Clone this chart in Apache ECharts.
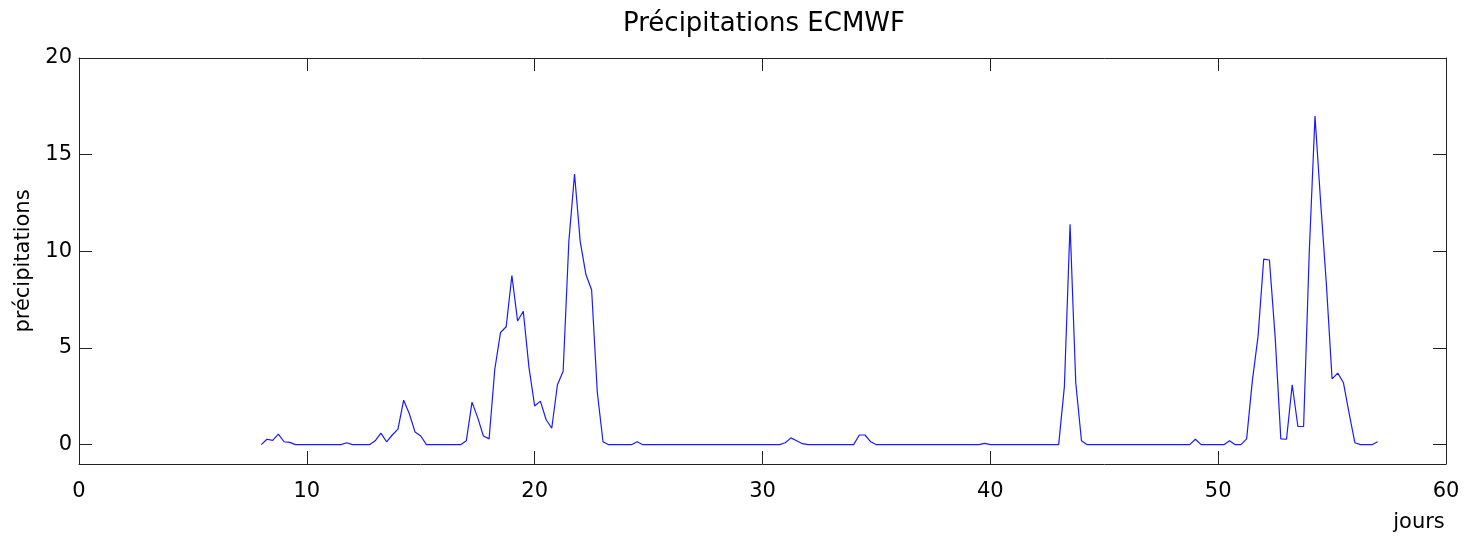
<!DOCTYPE html>
<html>
<head>
<meta charset="utf-8">
<title>Précipitations ECMWF</title>
<script src="https://cdn.jsdelivr.net/npm/echarts@6/dist/echarts.min.js"></script>
<style>
  html, body { margin: 0; padding: 0; background: #fff; }
  #precip_chart { width: 1466px; height: 539px; }
</style>
</head>
<body>
<div id="precip_chart"></div>
<script>
// jours (pas de 6 h)
var days = [
  8, 8.25, 8.5, 8.75, 9, 9.25, 9.5, 9.75,
  10, 10.25, 10.5, 10.75, 11, 11.25, 11.5, 11.75,
  12, 12.25, 12.5, 12.75, 13, 13.25, 13.5, 13.75,
  14, 14.25, 14.5, 14.75, 15, 15.25, 15.5, 15.75,
  16, 16.25, 16.5, 16.75, 17, 17.25, 17.5, 17.75,
  18, 18.25, 18.5, 18.75, 19, 19.25, 19.5, 19.75,
  20, 20.25, 20.5, 20.75, 21, 21.25, 21.5, 21.75,
  22, 22.25, 22.5, 22.75, 23, 23.25, 23.5, 23.75,
  24, 24.25, 24.5, 24.75, 25, 25.25, 25.5, 25.75,
  26, 26.25, 26.5, 26.75, 27, 27.25, 27.5, 27.75,
  28, 28.25, 28.5, 28.75, 29, 29.25, 29.5, 29.75,
  30, 30.25, 30.5, 30.75, 31, 31.25, 31.5, 31.75,
  32, 32.25, 32.5, 32.75, 33, 33.25, 33.5, 33.75,
  34, 34.25, 34.5, 34.75, 35, 35.25, 35.5, 35.75,
  36, 36.25, 36.5, 36.75, 37, 37.25, 37.5, 37.75,
  38, 38.25, 38.5, 38.75, 39, 39.25, 39.5, 39.75,
  40, 40.25, 40.5, 40.75, 41, 41.25, 41.5, 41.75,
  42, 42.25, 42.5, 42.75, 43, 43.25, 43.5, 43.75,
  44, 44.25, 44.5, 44.75, 45, 45.25, 45.5, 45.75,
  46, 46.25, 46.5, 46.75, 47, 47.25, 47.5, 47.75,
  48, 48.25, 48.5, 48.75, 49, 49.25, 49.5, 49.75,
  50, 50.25, 50.5, 50.75, 51, 51.25, 51.5, 51.75,
  52, 52.25, 52.5, 52.75, 53, 53.25, 53.5, 53.75,
  54, 54.25, 54.5, 54.75, 55, 55.25, 55.5, 55.75,
  56, 56.25, 56.5, 56.75, 57
];

// précipitations
var precip = [
  0, 0.28, 0.22, 0.55, 0.15, 0.12, 0, 0,
  0, 0, 0, 0, 0, 0, 0, 0.1,
  0, 0, 0, 0, 0.2, 0.6, 0.15, 0.5,
  0.8, 2.3, 1.6, 0.65, 0.45, 0, 0, 0,
  0, 0, 0, 0, 0.2, 2.2, 1.4, 0.45,
  0.3, 3.9, 5.8, 6.1, 8.75, 6.4, 6.9, 4.0,
  2.0, 2.25, 1.3, 0.85, 3.1, 3.8, 10.5, 14.0,
  10.5, 8.8, 8.0, 2.7, 0.15, 0, 0, 0,
  0, 0, 0.15, 0, 0, 0, 0, 0,
  0, 0, 0, 0, 0, 0, 0, 0,
  0, 0, 0, 0, 0, 0, 0, 0,
  0, 0, 0, 0, 0.1, 0.35, 0.2, 0.05,
  0, 0, 0, 0, 0, 0, 0, 0,
  0, 0.5, 0.5, 0.15, 0, 0, 0, 0,
  0, 0, 0, 0, 0, 0, 0, 0,
  0, 0, 0, 0, 0, 0, 0, 0.07,
  0, 0, 0, 0, 0, 0, 0, 0,
  0, 0, 0, 0, 0, 3.0, 11.4, 3.2,
  0.2, 0, 0, 0, 0, 0, 0, 0,
  0, 0, 0, 0, 0, 0, 0, 0,
  0, 0, 0, 0, 0.28, 0, 0, 0,
  0, 0, 0.2, 0, 0, 0.3, 3.3, 5.6,
  9.6, 9.55, 5.6, 0.3, 0.28, 3.1, 0.94, 0.94,
  10.0, 17.0, 12.5, 8.3, 3.4, 3.7, 3.2, 1.6,
  0.1, 0, 0, 0, 0.15
];

var yTicks = [0, 5, 10, 15, 20];

var font = 'DejaVu Sans';
var axisColor = '#222';

var chart = echarts.init(document.getElementById('precip_chart'));

var points = [];
for (var i = 0; i < days.length; i++) {
    points.push([days[i], precip[i]]);
}

chart.setOption({
    animation: false,
    backgroundColor: '#fff',
    title: {
        text: 'Précipitations ECMWF',
        left: 759,
        textAlign: 'center',
        top: 6,
        textStyle: {
            fontFamily: font,
            fontSize: 26,
            fontWeight: 'normal',
            color: '#000'
        }
    },
    grid: {
        left: 79,
        right: 20,
        top: 58,
        bottom: 75,
        outerBoundsMode: 'none',
        containLabel: false
    },
    xAxis: [{
        type: 'value',
        min: 0,
        max: 60,
        interval: 10,
        position: 'bottom',
        name: 'jours',
        nameLocation: 'end',
        nameGap: -27,
        nameTextStyle: {
            fontFamily: font,
            fontSize: 21,
            color: '#000',
            align: 'center',
            verticalAlign: 'top',
            padding: [48, 0, 0, 0]
        },
        axisLine: { onZero: false, lineStyle: { color: axisColor, width: 1 } },
        axisTick: { inside: true, length: 13, lineStyle: { color: axisColor } },
        axisLabel: {
            margin: 17,
            fontFamily: font,
            fontSize: 21,
            color: '#000'
        },
        splitLine: { show: false }
    }, {
        type: 'value',
        min: 0,
        max: 60,
        interval: 10,
        position: 'top',
        axisLine: { onZero: false, lineStyle: { color: axisColor, width: 1 } },
        axisTick: { inside: true, length: 13, lineStyle: { color: axisColor } },
        axisLabel: { show: false },
        splitLine: { show: false }
    }],
    yAxis: [{
        type: 'value',
        min: -1,
        max: 20,
        position: 'left',
        name: 'précipitations',
        nameLocation: 'middle',
        nameGap: 40,
        nameTextStyle: {
            fontFamily: font,
            fontSize: 21,
            color: '#000'
        },
        axisLine: { show: true, onZero: false, lineStyle: { color: axisColor, width: 1 } },
        axisTick: { show: true, inside: true, length: 13, customValues: yTicks, lineStyle: { color: axisColor } },
        axisLabel: {
            customValues: yTicks,
            margin: 7,
            fontFamily: font,
            fontSize: 21,
            color: '#000'
        },
        splitLine: { show: false }
    }, {
        type: 'value',
        min: -1,
        max: 20,
        position: 'right',
        axisLine: { show: true, onZero: false, lineStyle: { color: axisColor, width: 1 } },
        axisTick: { show: true, inside: true, length: 13, customValues: yTicks, lineStyle: { color: axisColor } },
        axisLabel: { show: false },
        splitLine: { show: false }
    }],
    series: [{
        name: 'précipitations',
        type: 'line',
        xAxisIndex: 0,
        yAxisIndex: 0,
        showSymbol: false,
        symbol: 'none',
        lineStyle: { color: '#1a1aff', width: 1.2 },
        data: points
    }]
});
</script>
</body>
</html>
